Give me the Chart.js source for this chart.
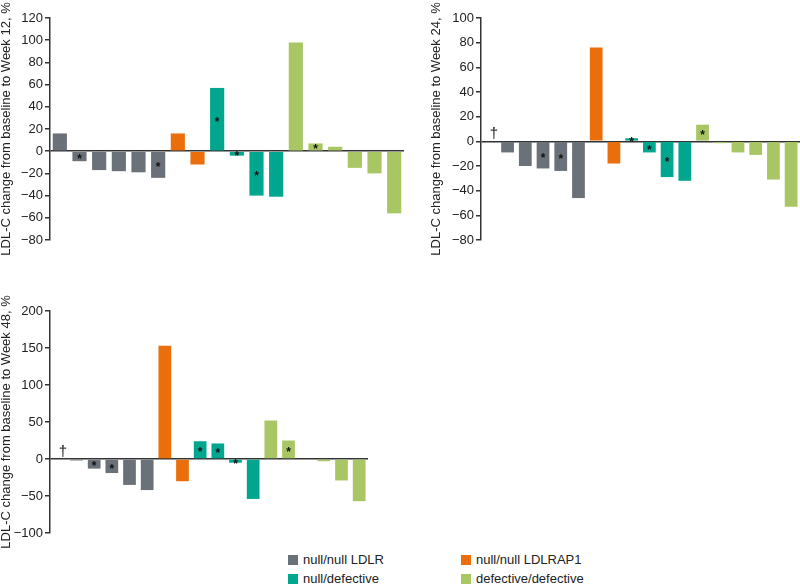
<!DOCTYPE html>
<html>
<head>
    <title>LDL-C change from baseline</title>
    <script src="https://cdn.jsdelivr.net/npm/chart.js"></script>
    <style>
        body { margin: 0; background: #fff; font-family: "Liberation Sans", Arial, sans-serif; }
        #wrap { position: relative; width: 800px; height: 584px; overflow: hidden; }
        canvas { position: absolute; }
        .legend-item { position: absolute; font-size: 13px; color: #222; line-height: 13px; }
        .legend-item span { display: inline-block; width: 10px; height: 10px; margin-right: 5px; vertical-align: -1px; }
    </style>
</head>
<body>
<div id="wrap">
    <canvas id="week12" width="410" height="280" style="left:0;top:0"></canvas>
    <canvas id="week24" width="370" height="280" style="left:430px;top:0"></canvas>
    <canvas id="week48" width="370" height="260" style="left:0;top:290px"></canvas>
    <div id="legend"></div>
</div>

<script>
    // 患者（每个柱子一个）
    const patients = ['1', '2', '3', '4', '5', '6', '7', '8', '9', '10', '11', '12', '13', '14', '15', '16', '17', '18'];

    // 基因型分组
    const groupNames = ['null/null LDLR', 'null/null LDLRAP1', 'null/defective', 'defective/defective'];
    const groupColors = ['#6a7178', '#eb6e0c', '#00a78e', '#a8c764'];
    const patientGroups = [0, 0, 0, 0, 0, 0, 1, 1, 2, 2, 2, 2, 3, 3, 3, 3, 3, 3];

    // 各周的变化值 (%)，null = 无数据（†）
    const week12 = [16, -9, -17, -18, -19, -24, 16, -12, 57, -4, -40, -41, 98, 7, 4, -15, -20, -56];
    const week24 = [null, -9, -20, -22, -24, -46, 76, -18, 2.5, -9, -29, -32, 13.5, -1.5, -9, -11, -31, -53];
    const week48 = [null, -2, -13, -19, -35, -42, 153, -30, 24, 21, -5, -54, 52, 25, 1, -3, -29, -57];

    // 标记 * 和 † 的位置（柱子序号）
    const stars12 = [1, 5, 8, 9, 10, 13];
    const stars24 = [3, 4, 8, 9, 10, 12];
    const stars48 = [2, 3, 8, 9, 10, 13];
    const daggers24 = [0];
    const daggers48 = [0];

    const FONT = '"Liberation Sans", Arial, sans-serif';

    // 画 * 和 †
    const markPlugin = {
        id: 'marks',
        afterDatasetsDraw(chart, args, opts) {
            const ctx = chart.ctx;
            const meta = chart.getDatasetMeta(0);
            const y0 = chart.scales.y.getPixelForValue(0);
            ctx.save();
            ctx.fillStyle = '#111';
            ctx.textAlign = 'center';
            ctx.font = 'bold 12px ' + FONT;
            ctx.textBaseline = 'middle';
            opts.stars.forEach(i => {
                const bar = meta.data[i];
                ctx.fillText('*', bar.x, (bar.y + bar.base) / 2 + 3);
            });
            ctx.font = '15px ' + FONT;
            ctx.textBaseline = 'alphabetic';
            opts.daggers.forEach(i => {
                const x = chart.scales.x.getPixelForValue(i);
                ctx.fillText('\u2020', x + 4, y0 - 3);
            });
            ctx.restore();
        }
    };

    function drawChart(id, values, stars, daggers, yMin, yMax, step, week, axisWidth, padding) {
        return new Chart(document.getElementById(id), {
            type: 'bar',
            data: {
                labels: patients,
                datasets: [{
                    data: values,
                    backgroundColor: patientGroups.map(g => groupColors[g]),
                    barPercentage: 0.72,
                    categoryPercentage: 1
                }]
            },
            options: {
                responsive: false,
                animation: false,
                layout: { padding: padding },
                plugins: {
                    legend: { display: false },
                    tooltip: { enabled: false },
                    marks: { stars: stars, daggers: daggers }
                },
                scales: {
                    x: { display: false },
                    y: {
                        min: yMin,
                        max: yMax,
                        afterFit(scale) {
                            scale.width = axisWidth;
                            scale.paddingTop = 0;
                            scale.paddingBottom = 0;
                        },
                        border: { display: true, color: '#333', width: 1.5 },
                        grid: {
                            color: c => c.tick && c.tick.value === 0 ? '#333' : 'rgba(0,0,0,0)',
                            lineWidth: 1.5,
                            tickColor: '#333',
                            tickLength: 5
                        },
                        ticks: {
                            stepSize: step,
                            padding: 2,
                            color: '#222',
                            font: { family: FONT, size: 13 },
                            callback: v => String(v).replace('-', '\u2212')
                        },
                        title: {
                            display: true,
                            text: 'LDL-C change from baseline to Week ' + week + ', %',
                            color: '#222',
                            font: { family: FONT, size: 13, lineHeight: 1 },
                            padding: { top: 0, bottom: 0 }
                        }
                    }
                }
            },
            plugins: [markPlugin]
        });
    }

    drawChart('week12', week12, stars12, [], -80, 120, 20, 12, 50, { top: 18, bottom: 40, right: 6, left: 0 });
    drawChart('week24', week24, stars24, daggers24, -80, 100, 20, 24, 51, { top: 18, bottom: 40, right: 0, left: 0 });
    drawChart('week48', week48, stars48, daggers48, -100, 200, 50, 48, 50, { top: 21, bottom: 17, right: 2, left: 0 });

    // 图例
    const legendPos = [[288, 553], [461, 553], [288, 572], [461, 572]];
    const legend = document.getElementById('legend');
    groupNames.forEach((name, i) => {
        const item = document.createElement('div');
        item.className = 'legend-item';
        item.style.left = legendPos[i][0] + 'px';
        item.style.top = legendPos[i][1] + 'px';
        item.innerHTML = '<span style="background:' + groupColors[i] + '"></span>' + name;
        legend.appendChild(item);
    });
</script>
</body>
</html>
